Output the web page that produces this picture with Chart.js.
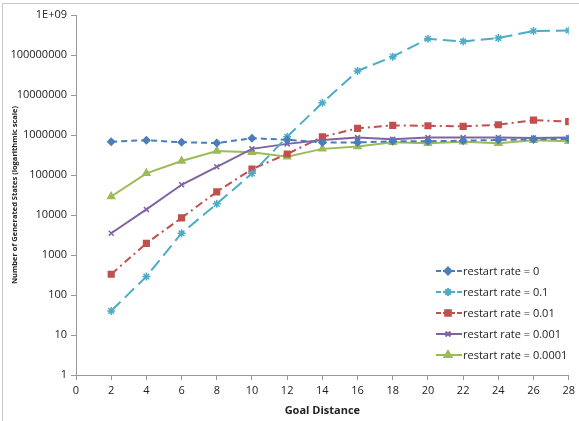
<!DOCTYPE html>
<html>
<head>
<meta charset="utf-8">
<script src="https://cdn.jsdelivr.net/npm/chart.js@4/dist/chart.umd.min.js"></script>
<style>
  html, body { margin: 0; padding: 0; background: #fff; }
  #wrap { position: relative; width: 579px; height: 421px; }
</style>
</head>
<body>
<div id="wrap"><canvas id="chart" width="579" height="421"></canvas></div>
<script>
const goalDistance = [2, 4, 6, 8, 10, 12, 14, 16, 18, 20, 22, 24, 26, 28];
const rate0 = [680000, 740000, 660000, 630000, 830000, 760000, 650000, 650000, 700000, 700000, 720000, 750000, 780000, 800000];
const rate01 = [40, 290, 3500, 19000, 110000, 900000, 6400000, 40000000, 91000000, 255000000, 218000000, 265000000, 398000000, 410000000];
const rate001 = [330, 1960, 8500, 38000, 141000, 335000, 900000, 1470000, 1740000, 1700000, 1650000, 1800000, 2360000, 2150000];
const rate0001 = [3500, 13800, 57000, 160000, 450000, 600000, 750000, 860000, 780000, 860000, 860000, 870000, 840000, 860000];
const rate00001 = [29000, 110000, 224000, 400000, 370000, 285000, 450000, 515000, 660000, 620000, 680000, 620000, 740000, 700000];
const yTicks = [1, 10, 100, 1000, 10000, 100000, 1000000, 10000000, 100000000, 1000000000];
const xTicks = [0, 2, 4, 6, 8, 10, 12, 14, 16, 18, 20, 22, 24, 26, 28];

const font = "'Open Sans', 'Liberation Sans', sans-serif";

let points = values => values.map((v, i) => ({ x: goalDistance[i], y: v }));

let series = [
    { label: "restart rate = 0", data: rate0, color: "#4a7ebb", dash: [6, 4], style: "rectRot", radius: 3.5 },
    { label: "restart rate = 0.1", data: rate01, color: "#4bacc6", dash: [13, 6], style: "star", radius: 4 },
    { label: "restart rate = 0.01", data: rate001, color: "#c0504d", dash: [8, 4, 2, 4], style: "rect", radius: 4 },
    { label: "restart rate = 0.001", data: rate0001, color: "#8064a2", dash: [], style: "crossRot", radius: 3.5 },
    { label: "restart rate = 0.0001", data: rate00001, color: "#9bbb59", dash: [], style: "triangle", radius: 4 }
];

// legend drawn inside the plot area, bottom right
const insideLegend = {
    id: "insideLegend",
    afterDraw(chart) {
        const ctx = chart.ctx;
        ctx.save();
        // outer frame
        ctx.strokeStyle = "#c8c8c8";
        ctx.lineWidth = 1;
        ctx.beginPath();
        ctx.moveTo(2.5, 421);
        ctx.lineTo(2.5, 3.5);
        ctx.lineTo(579, 3.5);
        ctx.stroke();

        series.forEach((s, i) => {
            const y = 271 + i * 21;
            ctx.strokeStyle = s.color;
            ctx.lineWidth = 2;
            ctx.setLineDash(s.dash.length ? [5, 2] : []);
            ctx.beginPath();
            ctx.moveTo(436, y);
            ctx.lineTo(462, y);
            ctx.stroke();
            ctx.setLineDash([]);
            ctx.fillStyle = s.color;
            ctx.strokeStyle = s.color;
            Chart.helpers.drawPoint(ctx, {
                pointStyle: s.style, radius: s.radius, rotation: 0, borderWidth: 1.5
            }, 448, y);
            ctx.fillStyle = "#222";
            ctx.font = "11px " + font;
            ctx.textBaseline = "middle";
            ctx.textAlign = "left";
            ctx.fillText(s.label, 463, y + 1);
        });
        ctx.restore();
    }
};

let datasets = series.map(s => ({
    label: s.label,
    data: points(s.data),
    borderColor: s.color,
    backgroundColor: s.color,
    borderWidth: 2,
    borderDash: s.dash,
    pointStyle: s.style,
    pointRadius: s.radius,
    pointBorderWidth: 1.5,
    pointHoverRadius: s.radius,
    tension: 0
}));

new Chart("chart", {
    type: "line",
    data: { datasets: datasets },
    options: {
        responsive: false,
        animation: false,
        layout: { padding: { left: 6, right: 9, top: 15, bottom: 0 } },
        plugins: {
            legend: { display: false },
            tooltip: { enabled: false }
        },
        scales: {
            x: {
                type: "linear",
                min: 0,
                max: 28,
                afterBuildTicks: scale => { scale.ticks = xTicks.map(v => ({ value: v })); },
                afterFit: scale => { scale.height = 46; },
                grid: { drawOnChartArea: false, tickLength: 5, color: "#999" },
                border: { color: "#999" },
                ticks: { color: "#222", font: { size: 11, family: font }, padding: 4, maxRotation: 0 },
                title: {
                    display: true, text: "Goal Distance", color: "#222",
                    font: { size: 11, weight: "bold", family: font }, padding: { top: 2 }
                }
            },
            y: {
                type: "logarithmic",
                min: 1,
                max: 1000000000,
                afterBuildTicks: scale => { scale.ticks = yTicks.map(v => ({ value: v })); },
                afterFit: scale => { scale.width = 70; },
                grid: { drawOnChartArea: false, tickLength: 5, color: "#999" },
                border: { color: "#999" },
                ticks: {
                    color: "#222",
                    font: { size: 11, family: font },
                    padding: 4,
                    callback: v => v >= 1000000000 ? "1E+09" : String(v)
                },
                title: {
                    display: true, text: "Number of Generated States (logarithmic scale)", color: "#222",
                    font: { size: 7.5, weight: "bold", family: font }, padding: { bottom: 0 }
                }
            }
        }
    },
    plugins: [insideLegend]
});
</script>
</body>
</html>
